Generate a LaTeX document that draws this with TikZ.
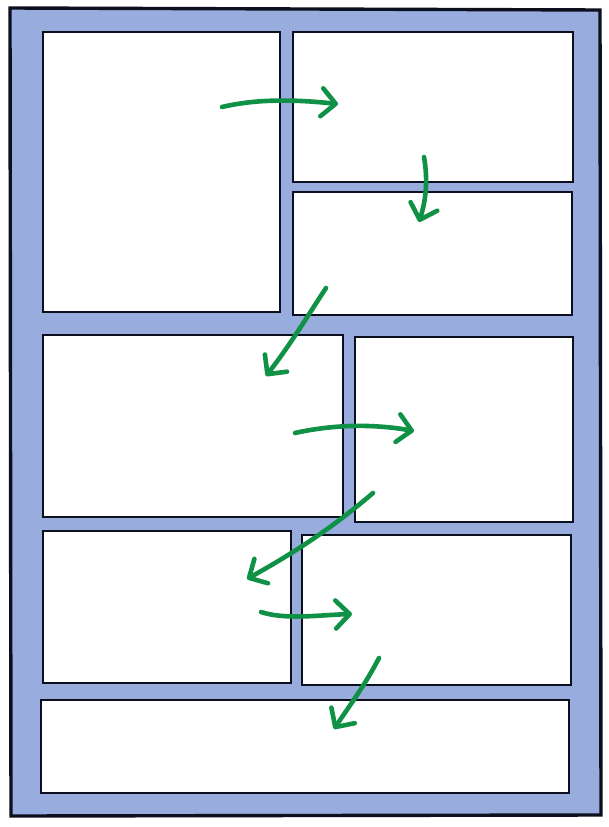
\documentclass[tikz,border=0pt]{standalone}
\usetikzlibrary{arrows.meta}
\definecolor{pageblue}{RGB}{152,172,222}
\definecolor{arrowgreen}{RGB}{16,146,70}
\definecolor{inkblack}{RGB}{12,16,30}
\tikzset{
  panel/.style={draw=inkblack, fill=white, line width=2.8pt, rectangle, inner sep=0pt, outer sep=0pt, anchor=north west},
  readarrow/.style={draw=arrowgreen, line width=4.6pt, line cap=round, line join=round,
    -{Straight Barb[length=14pt, width=28pt, line cap=round, line join=round]}}
}
\begin{document}
\begin{tikzpicture}[x=1pt, y=-1pt]
\useasboundingbox (0,0) rectangle (609,827);
\fill[white] (0,0) rectangle (609,827);
% page
\draw[inkblack, fill=pageblue, line width=3.4pt] (10,8) -- (600,10) -- (601,815) -- (11,816) -- cycle;
% panels
\node[panel, minimum width=237pt, minimum height=280pt] (p1) at (43,32) {};
\node[panel, minimum width=280pt, minimum height=150pt] (p2) at (293,32) {};
\node[panel, minimum width=279pt, minimum height=123pt] (p3) at (293,192) {};
\node[panel, minimum width=300pt, minimum height=182pt] (p4) at (43,335) {};
\node[panel, minimum width=218pt, minimum height=185pt] (p5) at (355,337) {};
\node[panel, minimum width=248pt, minimum height=152pt] (p6) at (43,531) {};
\node[panel, minimum width=269pt, minimum height=150pt] (p7) at (302,535) {};
\node[panel, minimum width=528pt, minimum height=93pt] (p8) at (41,700) {};
% arrow end points
\coordinate (a1s) at (222,107); \coordinate (a1e) at (338,104);
\coordinate (a2s) at (424,157); \coordinate (a2e) at (419,222);
\coordinate (a3s) at (326,288); \coordinate (a3e) at (266,376);
\coordinate (a4s) at (295,433); \coordinate (a4e) at (414,431);
\coordinate (a5s) at (373,493); \coordinate (a5e) at (247,579);
\coordinate (a6s) at (261,612); \coordinate (a6e) at (352,614);
\coordinate (a7s) at (379,658); \coordinate (a7e) at (334,729);
% reading-order arrows
\draw[readarrow] (a1s) .. controls (260,98) and (300,100) .. (a1e);
\draw[readarrow] (a2s) .. controls (428,180) and (426,200) .. (a2e);
\draw[readarrow] (a3s) .. controls (305,320) and (290,345) .. (a3e);
\draw[readarrow] (a4s) .. controls (340,423) and (380,425) .. (a4e);
\draw[readarrow] (a5s) .. controls (330,530) and (290,555) .. (a5e);
\draw[readarrow] (a6s) .. controls (285,620) and (320,615) .. (a6e);
\draw[readarrow] (a7s) .. controls (365,685) and (350,705) .. (a7e);
\end{tikzpicture}
\end{document}
